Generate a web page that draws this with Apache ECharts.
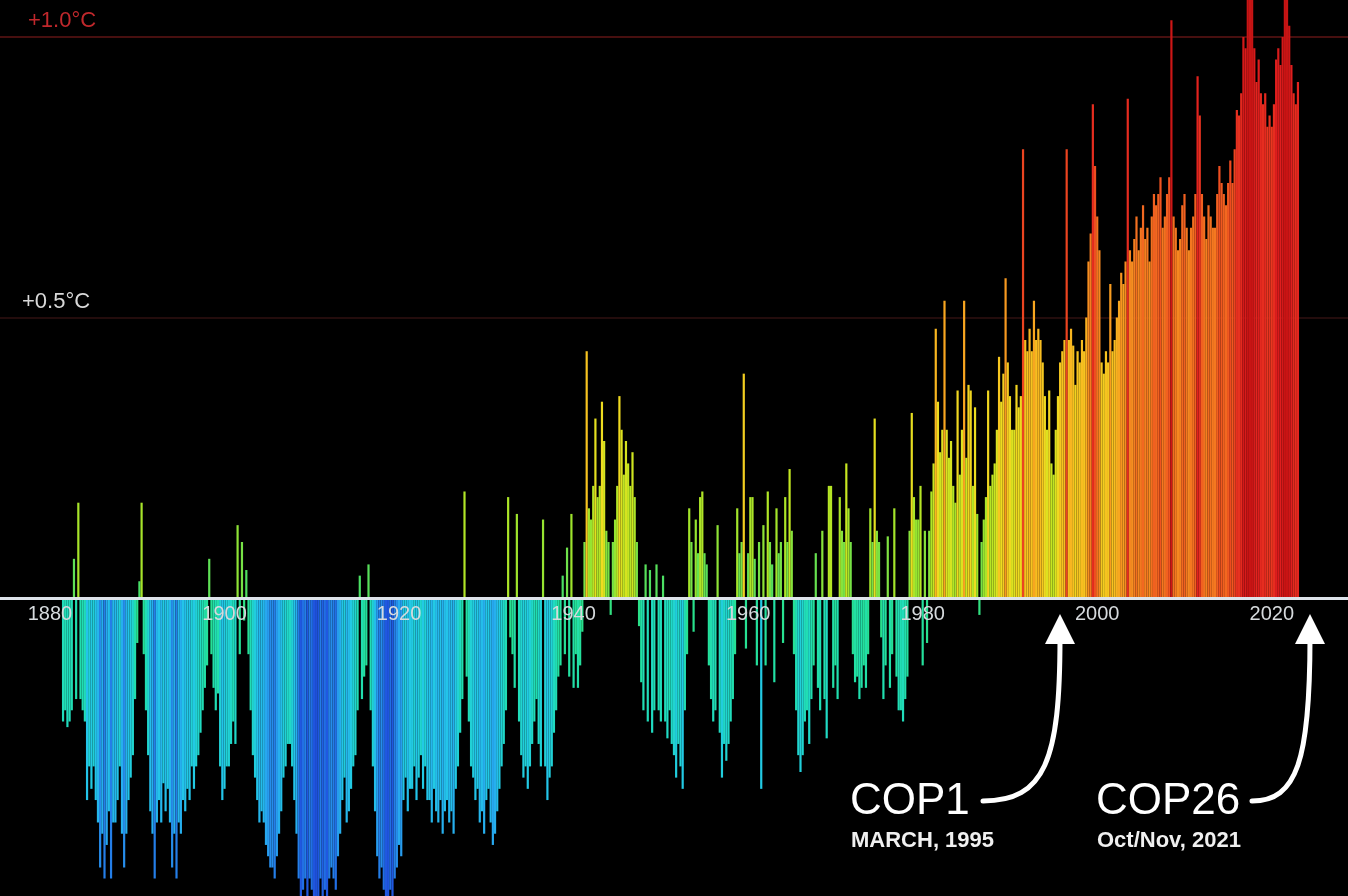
<!DOCTYPE html>
<html>
<head>
<meta charset="utf-8">
<script src="https://cdn.jsdelivr.net/npm/echarts@6/dist/echarts.min.js"></script>
<style>
html,body{margin:0;padding:0;background:#000;}
#c{width:1348px;height:896px;}
</style>
</head>
<body>
<div id="c"></div>
<script>
// Quarterly temperature anomalies (°C), 4 values per year
const firstYear = 1880;
const tickYears = [1880, 1900, 1920, 1940, 1960, 1980, 2000, 2020];

const q1880s = [
 -0.22,-0.20,-0.23,-0.22,  -0.20,0.07,-0.18,0.17,  -0.18,-0.20,-0.22,-0.36,  -0.30,-0.34,-0.30,-0.36,
 -0.40,-0.48,-0.42,-0.50,  -0.44,-0.38,-0.50,-0.40,  -0.40,-0.36,-0.30,-0.42,  -0.48,-0.42,-0.36,-0.32,
 -0.28,-0.18,-0.08,0.03,   0.17,-0.10,-0.20,-0.28,   -0.38,-0.42,-0.50,-0.40,  -0.36,-0.40,-0.33,-0.38,
 -0.34,-0.40,-0.48,-0.42,  -0.50,-0.40,-0.42,-0.36,  -0.38,-0.34,-0.36,-0.30,  -0.34,-0.30,-0.28,-0.24,
 -0.20,-0.16,-0.12,0.07,   -0.10,-0.16,-0.20,-0.17,  -0.30,-0.36,-0.34,-0.30,  -0.30,-0.26,-0.22,-0.26
];
const q1900s = [
 0.13,-0.10,0.10,-0.04,    0.05,-0.10,-0.20,-0.28,   -0.32,-0.36,-0.40,-0.38,  -0.40,-0.44,-0.46,-0.48,
 -0.48,-0.50,-0.46,-0.42,  -0.38,-0.32,-0.30,-0.26,  -0.26,-0.30,-0.36,-0.42,  -0.50,-0.55,-0.52,-0.50,
 -0.55,-0.50,-0.52,-0.56,  -0.58,-0.55,-0.50,-0.54,  -0.52,-0.55,-0.50,-0.48,  -0.50,-0.52,-0.46,-0.42,
 -0.36,-0.32,-0.40,-0.38,  -0.34,-0.30,-0.28,-0.20,  0.04,-0.18,-0.14,-0.12,   0.06,-0.20,-0.30,-0.38,
 -0.46,-0.50,-0.48,-0.52,  -0.55,-0.56,-0.52,-0.55,  -0.50,-0.48,-0.44,-0.46,  -0.36,-0.32,-0.38,-0.34
];
const q1920s = [
 -0.34,-0.30,-0.36,-0.32,  -0.28,-0.34,-0.30,-0.36,  -0.36,-0.40,-0.34,-0.38,  -0.40,-0.36,-0.42,-0.38,
 -0.36,-0.40,-0.38,-0.42,  -0.34,-0.30,-0.24,-0.18,  0.19,-0.14,-0.22,-0.30,   -0.32,-0.36,-0.34,-0.40,
 -0.38,-0.42,-0.36,-0.34,  -0.40,-0.44,-0.42,-0.38,  -0.34,-0.30,-0.26,-0.20,  0.18,-0.07,-0.10,-0.16,
 0.15,-0.22,-0.28,-0.32,   -0.30,-0.34,-0.30,-0.26,  -0.22,-0.18,-0.26,-0.30,  0.14,-0.30,-0.36,-0.32,
 -0.30,-0.24,-0.20,-0.14,  -0.12,0.04,-0.10,0.09,    -0.14,0.15,-0.16,-0.10,   -0.16,-0.12,-0.06,0.10
];
const q1940s = [
 0.44,0.16,0.14,0.20,      0.32,0.18,0.20,0.35,      0.28,0.12,0.10,-0.03,     0.10,0.14,0.20,0.36,
 0.30,0.22,0.28,0.24,      0.20,0.26,0.18,0.10,      -0.05,-0.15,-0.20,0.06,   -0.22,0.05,-0.24,-0.20,
 0.06,-0.20,-0.22,0.04,    -0.22,-0.25,-0.20,-0.26,  -0.28,-0.32,-0.26,-0.30,  -0.34,-0.20,-0.10,0.16,
 0.10,-0.06,0.14,0.08,     0.18,0.19,0.08,0.06,      -0.12,-0.18,-0.22,-0.20,  0.13,-0.24,-0.32,-0.26,
 -0.29,-0.26,-0.22,-0.18,  -0.10,0.16,0.08,0.10,     0.40,-0.09,0.08,0.18,     0.18,0.07,-0.12,0.10
];
const q1960s = [
 -0.34,0.13,-0.12,0.19,    0.10,0.06,-0.15,0.16,     0.08,0.10,-0.08,0.18,     0.10,0.23,0.12,-0.10,
 -0.20,-0.28,-0.31,-0.28,  -0.22,-0.20,-0.26,-0.18,  -0.12,0.08,-0.16,-0.20,   0.12,-0.18,-0.25,0.20,
 0.20,-0.16,-0.12,-0.18,   0.18,0.12,0.10,0.24,      0.16,0.10,-0.10,-0.15,    -0.14,-0.18,-0.16,-0.12,
 -0.16,-0.10,0.16,0.10,    0.32,0.12,0.10,-0.07,     -0.18,-0.12,0.11,-0.16,   -0.10,0.16,-0.14,-0.20,
 -0.20,-0.22,-0.18,-0.14,  0.12,0.33,0.18,0.14,      0.14,0.20,-0.12,0.12,     -0.08,0.12,0.19,0.24
];
const q1980s = [
 0.48,0.35,0.26,0.30,      0.53,0.30,0.25,0.28,      0.20,0.17,0.37,0.22,      0.30,0.53,0.25,0.38,
 0.37,0.20,0.34,0.15,      -0.03,0.10,0.14,0.18,     0.37,0.20,0.22,0.24,      0.30,0.43,0.35,0.40,
 0.57,0.42,0.36,0.30,      0.30,0.38,0.34,0.36,      0.80,0.46,0.44,0.48,      0.44,0.53,0.46,0.48,
 0.46,0.42,0.36,0.30,      0.37,0.24,0.22,0.30,      0.36,0.42,0.44,0.46,      0.80,0.46,0.48,0.45,
 0.38,0.44,0.42,0.46,      0.44,0.50,0.60,0.65,      0.88,0.77,0.68,0.62,      0.42,0.40,0.44,0.42
];
const q2000s = [
 0.56,0.44,0.46,0.50,      0.53,0.58,0.56,0.60,      0.89,0.62,0.60,0.64,      0.68,0.62,0.66,0.70,
 0.64,0.66,0.60,0.68,      0.72,0.70,0.72,0.75,      0.66,0.68,0.72,0.75,      1.03,0.68,0.66,0.62,
 0.64,0.70,0.72,0.66,      0.62,0.66,0.68,0.72,      0.93,0.86,0.72,0.68,      0.64,0.70,0.68,0.66,
 0.66,0.72,0.77,0.74,      0.72,0.70,0.74,0.78,      0.74,0.80,0.87,0.86,      0.90,1.00,0.98,1.08,
 1.15,1.10,0.98,0.92,      0.96,0.90,0.88,0.90,      0.84,0.86,0.84,0.88,      0.96,0.98,0.95,1.00
];
const q2020s = [
 1.12,1.08,1.02,0.95,      0.90,0.88,0.92
];

const anomalies = [].concat(q1880s, q1900s, q1920s, q1940s, q1960s, q1980s, q2000s, q2020s);

// colour ramp (anomaly -> colour), from -0.65 to +1.05 in steps of 0.1
const rampColors = ['#1a3cc8','#2058e0','#28a4f0','#22c8e8','#20dac4','#22e0a4','#2ae088','#50e060',
  '#9ee42c','#cce620','#eedc20','#f8c020','#f8a020','#f47c20','#f05420','#e83420','#e01e1e','#c81414'];

const points = anomalies.map(function (v, i) {
  const t = firstYear + Math.floor(i / 4) + ((i % 4) + 0.5) / 4;
  return [t, v];
});

const chart = echarts.init(document.getElementById('c'), null, {renderer: 'canvas'});
const font = '"Liberation Sans", Arial, Helvetica, sans-serif';

chart.setOption({
  backgroundColor: '#000',
  animation: false,
  grid: {left: 0, right: 0, top: 0, bottom: 0, containLabel: false, outerBoundsMode: 'none'},
  xAxis: {
    type: 'value', min: 1872.9, max: 2027.36, z: 10,
    position: 'bottom', offset: -298,
    axisLine: {onZero: false, lineStyle: {color: '#dde3ea', width: 3}},
    axisTick: {show: false},
    splitLine: {show: false},
    axisLabel: {
      customValues: tickYears,
      formatter: function (v) { return String(v); },
      color: '#d6dadd', fontSize: 20, fontFamily: font, margin: 6,
      padding: [0, 24, 0, 0]
    }
  },
  yAxis: {type: 'value', min: -0.531, max: 1.066, show: false, splitLine: {show: false}},
  visualMap: {
    show: false, type: 'continuous', dimension: 1, seriesIndex: 0,
    min: -0.65, max: 1.05, inRange: {color: rampColors}
  },
  series: [{
    type: 'bar',
    data: points,
    encode: {x: 0, y: 1},
    barWidth: 2.2,
    clip: true,
    z: 2,
    markLine: {
      silent: true, symbol: 'none', z: 1, animation: false,
      data: [
        {yAxis: 1.0, lineStyle: {color: 'rgba(190,40,40,0.5)', width: 1.5, type: 'solid'},
         label: {show: true, position: 'insideStartTop', formatter: '+1.0°C', color: '#c0282c',
                 fontSize: 22, fontFamily: font, distance: [28, 5]}},
        {yAxis: 0.5, lineStyle: {color: 'rgba(170,60,60,0.28)', width: 1.5, type: 'solid'},
         label: {show: true, position: 'insideStartTop', formatter: '+0.5°C', color: '#d8d8d8',
                 fontSize: 22, fontFamily: font, distance: [22, 5]}}
      ]
    }
  }],
  graphic: [
    {type: 'bezierCurve', z: 100,
     shape: {x1: 983, y1: 801, cpx1: 1045, cpy1: 801, cpx2: 1060, cpy2: 760, x2: 1060, y2: 638},
     style: {stroke: '#ffffff', lineWidth: 5, fill: 'none', lineCap: 'round'}},
    {type: 'polygon', z: 100, shape: {points: [[1060, 614], [1045, 644], [1075, 644]]}, style: {fill: '#ffffff'}},
    {type: 'bezierCurve', z: 100,
     shape: {x1: 1252, y1: 801, cpx1: 1297, cpy1: 801, cpx2: 1310, cpy2: 760, x2: 1310, y2: 638},
     style: {stroke: '#ffffff', lineWidth: 5, fill: 'none', lineCap: 'round'}},
    {type: 'polygon', z: 100, shape: {points: [[1310, 614], [1295, 644], [1325, 644]]}, style: {fill: '#ffffff'}},
    {type: 'text', z: 100, x: 850, y: 802,
     style: {text: 'COP1', font: '44px ' + font, fill: '#ffffff', verticalAlign: 'middle', align: 'left'}},
    {type: 'text', z: 100, x: 851, y: 841,
     style: {text: 'MARCH, 1995', font: 'bold 22px ' + font, fill: '#f0f0f0', verticalAlign: 'middle', align: 'left'}},
    {type: 'text', z: 100, x: 1096, y: 802,
     style: {text: 'COP26', font: '44px ' + font, fill: '#ffffff', verticalAlign: 'middle', align: 'left'}},
    {type: 'text', z: 100, x: 1097, y: 841,
     style: {text: 'Oct/Nov, 2021', font: 'bold 22px ' + font, fill: '#f0f0f0', verticalAlign: 'middle', align: 'left'}}
  ]
});
</script>
</body>
</html>
